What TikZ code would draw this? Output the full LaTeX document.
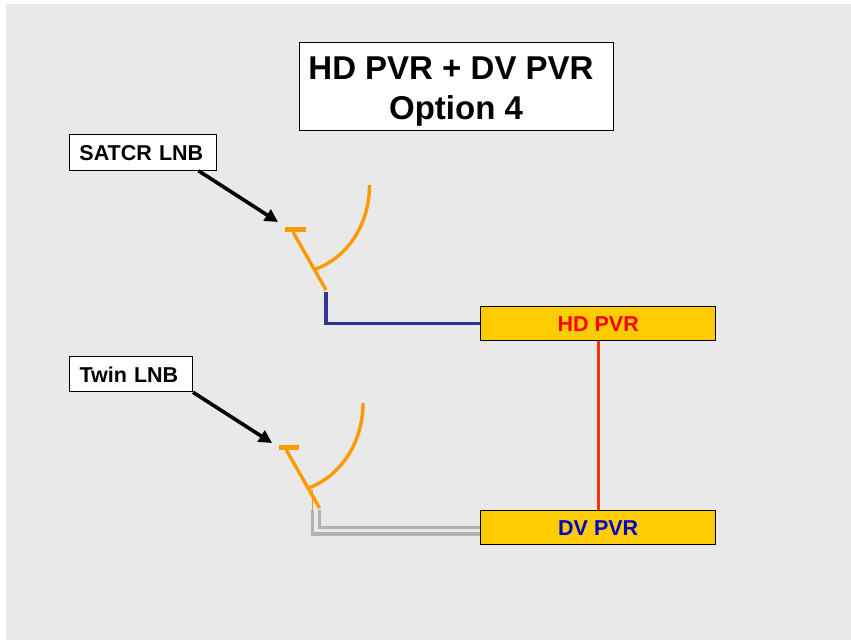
\documentclass[tikz,border=0pt]{standalone}
\usepackage{fontspec}
\setmainfont{Liberation Sans}
\usetikzlibrary{arrows.meta}
\definecolor{slidegray}{HTML}{E9E9E9}
\definecolor{dishorange}{HTML}{FF9900}
\definecolor{boxyellow}{HTML}{FFCC00}
\definecolor{cableblue}{HTML}{333399}
\definecolor{cablegray}{HTML}{B2B2B2}
\definecolor{linkred}{HTML}{FF3300}
\definecolor{dvblue}{HTML}{0000CC}
\tikzset{
  labelbox/.style={draw=black, line width=1pt, fill=white, inner xsep=10pt, inner ysep=0pt, align=left, text height=16.5pt, text depth=0pt, font=\fontsize{21.5}{26}\bfseries\selectfont},
  pvrbox/.style={draw=black, line width=1pt, fill=boxyellow, minimum width=235.5pt, minimum height=33.5pt, inner sep=0pt, text height=16.5pt, text depth=0pt, font=\fontsize{21.5}{26}\bfseries\selectfont},
  dish/.style={draw=dishorange, line width=3.4pt},
  pointer/.style={draw=black, line width=3.6pt, -{Triangle[length=13pt,width=13pt]}},
}
\begin{document}
\begin{tikzpicture}[x=1pt, y=-1pt]
\useasboundingbox (0,0) rectangle (851,640);
\fill[slidegray] (6,4) rectangle (851,640);

\node[draw=black, line width=1pt, fill=white, minimum width=314pt, minimum height=88pt, inner sep=0pt, align=center, font=\fontsize{33}{40}\bfseries\selectfont] (title) at (456,86) {\rule{0pt}{33pt}HD PVR + DV PVR\hspace*{10pt}\\Option 4};

\node[labelbox, text width=127.5pt, minimum height=35.5pt] (satcr) at (143.2,152.5) {SATCR LNB};
\node[labelbox, text width=103pt, minimum height=35.5pt] (twin) at (131,374) {Twin LNB};

\node[pvrbox, text=red] (hd) at (598.2,323.4) {HD PVR};
\node[pvrbox, text=dvblue] (dv) at (598.2,527.4) {DV PVR};

% upper dish
\coordinate (satfoot) at (326,290);
\coordinate (sattip) at (278,222);
\draw[dish, line width=5.5pt] (285,229.5) -- (306,229.5);
\draw[dish] (293,232) -- (satfoot);
\draw[dish] (369.5,185) .. controls (369.5,225) and (347,258) .. (314.5,269.5);

% lower dish
\coordinate (twinfoot) at (319.5,508);
\coordinate (twintip) at (272,443);
\draw[dish, line width=5.5pt] (278.7,447.7) -- (299.3,447.7);
\draw[dish] (286.3,450) -- (twinfoot);
\draw[dish] (363,403) .. controls (363,443) and (340.5,476) .. (308.5,488);
\draw[dishorange, line width=0.7pt] (312,490) -- (312,510);

\draw[pointer] ([xshift=-19pt]satcr.south east) -- (sattip);
\draw[pointer] (twin.south east) -- (twintip);

\coordinate (satcable) at (326,292);
\coordinate (twinouter) at (312.5,510);
\coordinate (twininner) at (319.5,510);
\draw[cableblue, line width=3.6pt] (satcable) |- (hd.west);
\draw[cablegray, line width=3.4pt] (twinouter) |- ([yshift=-6.7pt]dv.west);
\draw[cablegray, line width=3.4pt] (twininner) |- (dv.west);

\draw[linkred, line width=3.4pt] (hd.south) -- (dv.north);
\end{tikzpicture}
\end{document}
